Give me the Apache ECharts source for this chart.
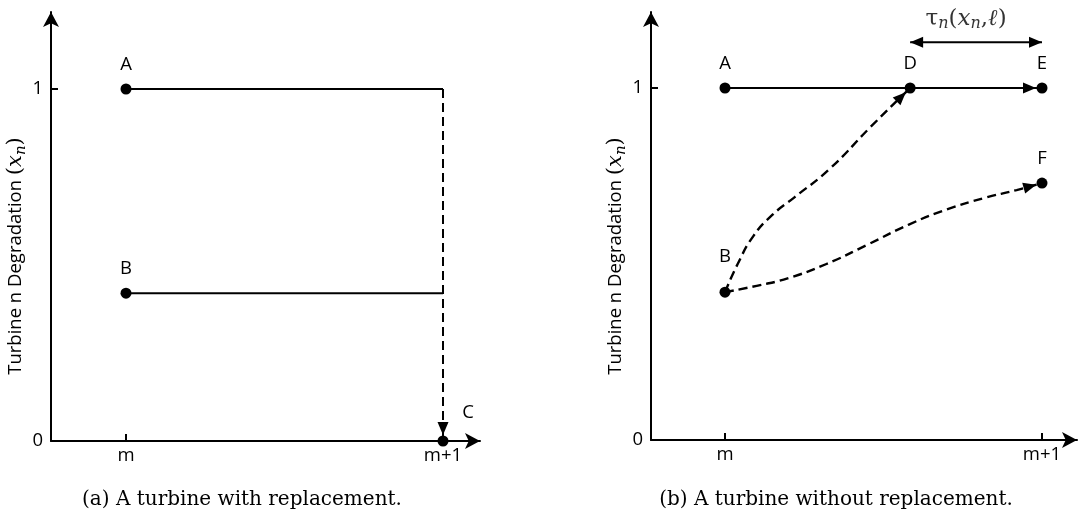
<!DOCTYPE html>
<html>
<head>
<meta charset="utf-8">
<script src="https://cdn.jsdelivr.net/npm/echarts@6/dist/echarts.min.js"></script>
<style>
  html, body { margin: 0; padding: 0; background: #fff; }
  #chart { width: 1091px; height: 516px; }
</style>
</head>
<body>
<div id="chart"></div>
<script>
// Period axis: tick values and their labels
const periodTicks = [0, 1];
const periodLabels = ['m', 'm+1'];
// Degradation axis: tick values and their labels
const degTicks = [0, 1];
const degLabels = ['0', '1'];

// (a) with replacement: states A, B and the replaced state C
const aNames = ['A', 'B', 'C'];
const aX = [0, 0, 1];
const aY = [1, 0.42, 0];

// (b) without replacement: states A, B, D, E, F
const bNames = ['A', 'B', 'D', 'E', 'F'];
const bX = [0, 0, 0.584, 1, 1];
const bY = [1, 0.42, 1, 1, 0.73];

// Degradation path from B reaching full degradation at D
const pathBDx = [0, 0.04, 0.09, 0.15, 0.22, 0.33, 0.46, 0.584];
const pathBDy = [0.42, 0.5, 0.58, 0.64, 0.69, 0.77, 0.89, 1];
// Degradation path from B ending at F
const pathBFx = [0, 0.1, 0.2, 0.32, 0.45, 0.58, 0.7, 0.82, 0.92, 1];
const pathBFy = [0.42, 0.438, 0.46, 0.5, 0.555, 0.612, 0.655, 0.688, 0.71, 0.73];

// Level of the tau interval arrow above the chart
const tauLevel = 1.13;

const INK = '#000';
const SANS = '"Open Sans", sans-serif';
const SERIF = '"DejaVu Serif", serif';
const R = 5.5; // point radius, px
const FS = 18.5; // label font size

const zip = (xs, ys) => xs.map((x, i) => [x, ys[i]]);

function axisPair(gridIndex, xMin, xMax, yMax) {
  const common = {
    gridIndex,
    type: 'value',
    splitLine: { show: false },
    axisLine: {
      onZero: false,
      symbol: ['none', 'arrow'],
      symbolSize: [12, 15],
      lineStyle: { color: INK, width: 2 }
    },
    axisTick: { inside: true, length: 7, lineStyle: { color: INK, width: 2 } }
  };
  return {
    x: Object.assign({}, common, {
      min: xMin, max: xMax,
      axisTick: Object.assign({}, common.axisTick, { customValues: periodTicks }),
      axisLabel: {
        customValues: periodTicks, margin: 5,
        color: INK, fontFamily: SANS, fontSize: FS,
        formatter: v => periodLabels[periodTicks.indexOf(v)]
      }
    }),
    y: Object.assign({}, common, {
      min: 0, max: yMax,
      axisTick: Object.assign({}, common.axisTick, { customValues: degTicks }),
      axisLabel: {
        customValues: degTicks, margin: 8,
        color: INK, fontFamily: SANS, fontSize: FS,
        formatter: v => degLabels[degTicks.indexOf(v)]
      }
    })
  };
}

const axA = axisPair(0, -0.2366, 1.1167, 1.21875);
const axB = axisPair(1, -0.2334, 1.1104, 1.2159);

// Arrowhead drawn at the end of segment p1->p2, tip pulled back by `gap` px
function arrowHead(gap) {
  return function (params, api) {
    const p1 = api.coord([api.value(0), api.value(1)]);
    const p2 = api.coord([api.value(2), api.value(3)]);
    const dx = p2[0] - p1[0], dy = p2[1] - p1[1];
    const len = Math.hypot(dx, dy) || 1;
    const ux = dx / len, uy = dy / len;
    const tip = [p2[0] - ux * gap, p2[1] - uy * gap];
    const L = 13, W = 5.5;
    const base = [tip[0] - ux * L, tip[1] - uy * L];
    const nx = -uy, ny = ux;
    return {
      type: 'polygon',
      shape: { points: [tip, [base[0] + nx * W, base[1] + ny * W], [base[0] - nx * W, base[1] - ny * W]] },
      style: { fill: INK }
    };
  };
}

function line(idx, data, dashed) {
  return {
    type: 'line', xAxisIndex: idx, yAxisIndex: idx, data,
    symbol: 'none', smooth: false, silent: true, z: 2,
    lineStyle: { color: INK, width: 2, type: dashed ? [9, 5] : 'solid' }
  };
}

function curve(idx, data) {
  const s = line(idx, data, true);
  s.smooth = 0.5;
  s.lineStyle.width = 2.4;
  return s;
}

function arrows(idx, segs, gap) {
  return {
    type: 'custom', xAxisIndex: idx, yAxisIndex: idx, data: segs,
    encode: { x: [0, 2], y: [1, 3] }, clip: false, silent: true, z: 3,
    renderItem: arrowHead(gap)
  };
}

function points(idx, names, xs, ys, labelTweaks) {
  return {
    type: 'scatter', xAxisIndex: idx, yAxisIndex: idx, z: 4, silent: true,
    symbol: 'circle', symbolSize: 2 * R,
    itemStyle: { color: INK, opacity: 1 },
    label: { show: true, position: 'top', distance: 9, color: INK, fontFamily: SANS, fontSize: FS, formatter: '{b}' },
    data: names.map((n, i) => {
      const item = { name: n, value: [xs[i], ys[i]] };
      if (labelTweaks[n]) item.label = labelTweaks[n];
      return item;
    })
  };
}

const iA = 0, iB = 1, iC = 2;
const jA = 0, jB = 1, jD = 2, jE = 3, jF = 4;
const tauMid = (bX[jD] + bX[jE]) / 2;

const series = [
  // (a)
  line(0, [[aX[iA], aY[iA]], [aX[iC], aY[iA]]], false),
  line(0, [[aX[iB], aY[iB]], [aX[iC], aY[iB]]], false),
  line(0, [[aX[iC], aY[iA]], [aX[iC], aY[iC]]], true),
  arrows(0, [[aX[iC], aY[iA], aX[iC], aY[iC]]], R + 0.5),
  points(0, aNames, aX, aY, { C: { position: 'top', offset: [25, -4] } }),

  // (b)
  line(1, [[bX[jA], bY[jA]], [bX[jE], bY[jE]]], false),
  curve(1, zip(pathBDx, pathBDy)),
  curve(1, zip(pathBFx, pathBFy)),
  arrows(1, [
    [bX[jA], bY[jA], bX[jE], bY[jE]],
    [pathBDx[pathBDx.length - 2], pathBDy[pathBDy.length - 2], bX[jD], bY[jD]],
    [pathBFx[pathBFx.length - 2], pathBFy[pathBFy.length - 2], bX[jF], bY[jF]]
  ], R + 0.5),
  line(1, [[bX[jD], tauLevel], [bX[jE], tauLevel]], false),
  arrows(1, [
    [tauMid, tauLevel, bX[jD], tauLevel],
    [tauMid, tauLevel, bX[jE], tauLevel]
  ], 0),
  points(1, bNames, bX, bY, { B: { position: 'top', distance: 20 } }),
  {
    type: 'scatter', xAxisIndex: 1, yAxisIndex: 1, z: 4, silent: true,
    symbolSize: 0,
    data: [{ name: 'tau', value: [tauMid, tauLevel] }],
    label: {
      show: true, position: 'top', distance: 10, offset: [-10, 0],
      formatter: '{g|τ}{sub|n}{p|(}{i|x}{sub|n}{p|,}{i|ℓ}{p|)}',
      rich: {
        g: { fontFamily: SERIF, fontSize: 23, color: INK },
        p: { fontFamily: SERIF, fontSize: 23, color: INK },
        i: { fontFamily: SERIF, fontSize: 23, fontStyle: 'italic', color: INK },
        sub: { fontFamily: SERIF, fontSize: 16, fontStyle: 'italic', color: INK, padding: [11, 0, 0, 0] }
      }
    }
  }
];

function axisTitle(cx, cy) {
  return {
    type: 'text', x: cx, y: cy, rotation: Math.PI / 2, silent: true,
    style: {
      text: '{s|Turbine n Degradation }{p|(}{i|x}{sub|n}{p|)}',
      align: 'center', verticalAlign: 'middle',
      rich: {
        s: { fontFamily: SANS, fontSize: FS, fill: INK },
        p: { fontFamily: SERIF, fontSize: 21, fill: INK },
        i: { fontFamily: SERIF, fontSize: 21, fontStyle: 'italic', fill: INK },
        sub: { fontFamily: SERIF, fontSize: 15, fontStyle: 'italic', fill: INK, padding: [10, 0, 0, 0] }
      }
    }
  };
}

function caption(cx, cy, text) {
  return {
    type: 'text', x: cx, y: cy, silent: true,
    style: { text, fontFamily: SERIF, fontSize: 20, fill: INK, align: 'center', verticalAlign: 'middle' }
  };
}

const chart = echarts.init(document.getElementById('chart'), null, { renderer: 'canvas' });
chart.setOption({
  backgroundColor: '#fff',
  animation: false,
  grid: [
    { left: 51, top: 12, width: 429, height: 429 },
    { left: 651, top: 12, width: 426, height: 428 }
  ],
  xAxis: [axA.x, axB.x],
  yAxis: [axA.y, axB.y],
  series,
  graphic: [
    axisTitle(16, 256),
    axisTitle(616, 256),
    caption(242, 500, '(a) A turbine with replacement.'),
    caption(836, 500, '(b) A turbine without replacement.')
  ]
});
</script>
</body>
</html>
